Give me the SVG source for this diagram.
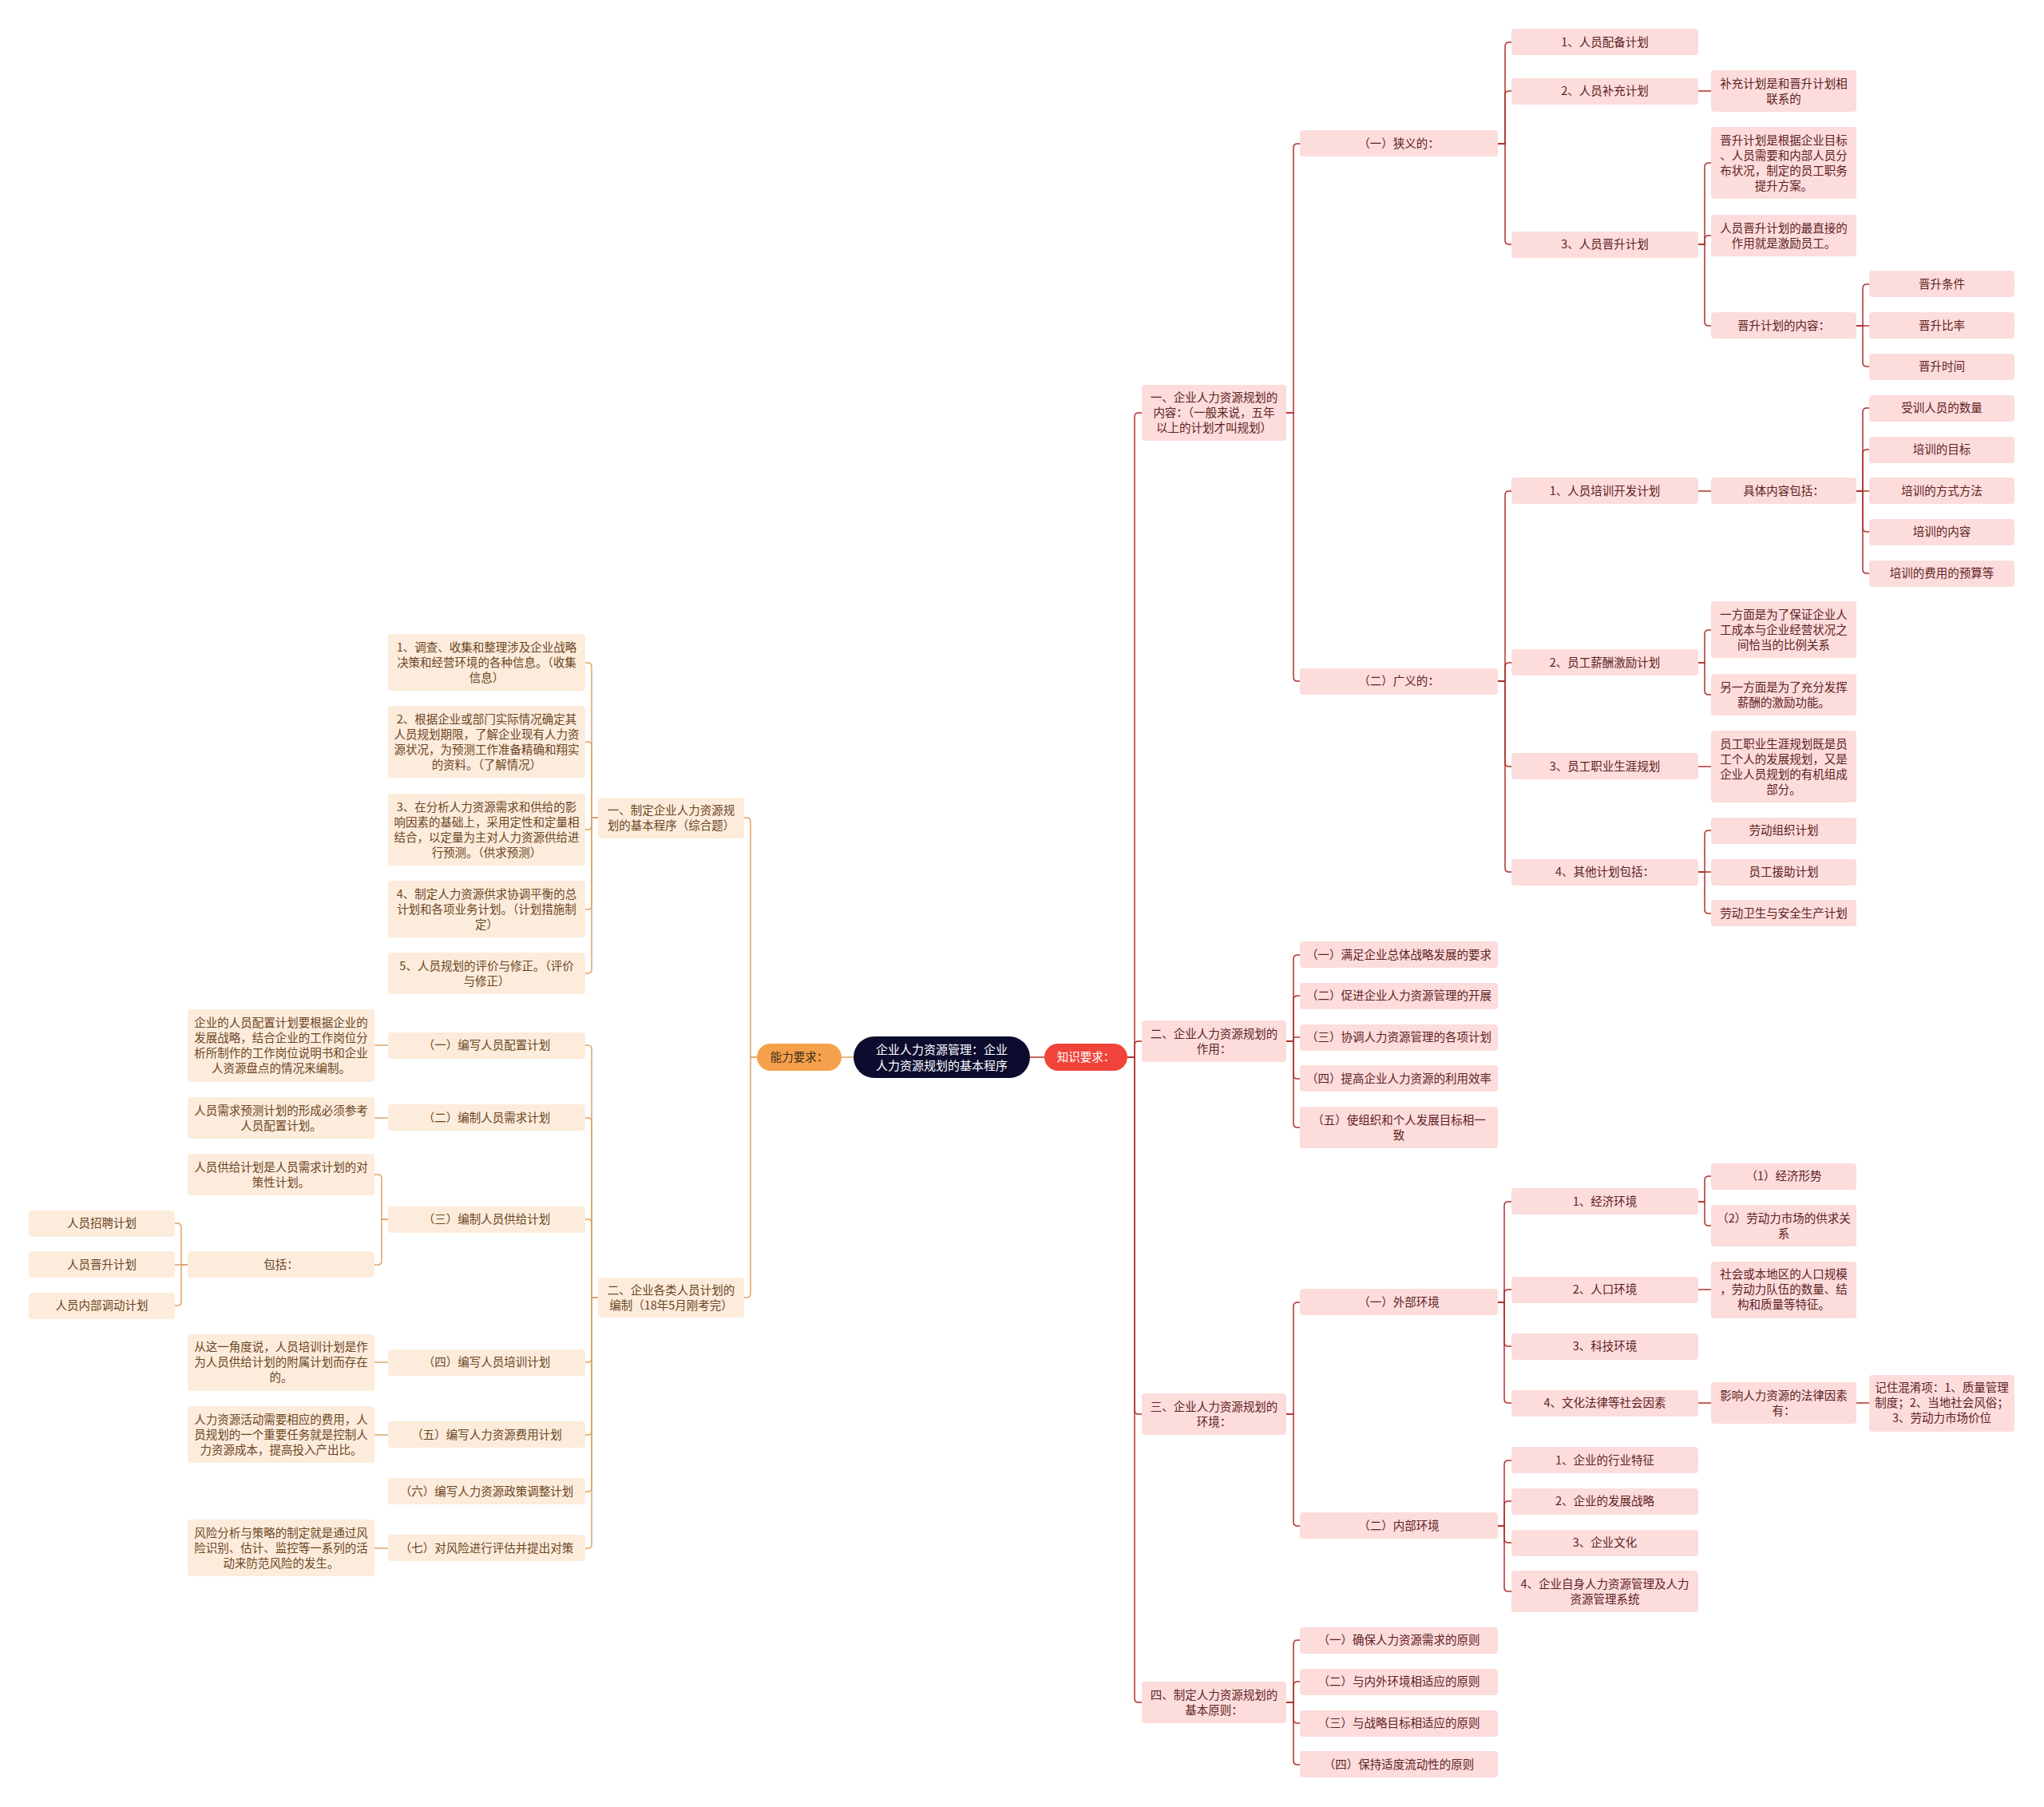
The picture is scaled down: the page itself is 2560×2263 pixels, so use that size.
<svg xmlns="http://www.w3.org/2000/svg" width="2560" height="2263" viewBox="0 0 2560 2263">
<style>
text{font-family:"Noto Sans CJK SC","Noto Sans",sans-serif;font-size:14.5px;text-anchor:middle}
.r rect{fill:#fddcdc}
.r text{fill:#5e2222}
.l rect{fill:#fdecdc}
.l text{fill:#6b451f}
.cr{fill:none;stroke:#b0302d;stroke-width:1.5}
.cl{fill:none;stroke:#dea468;stroke-width:1.5}
</style>
<rect x="0" y="0" width="2560" height="2263" fill="#ffffff"/>
<g id="connectors">
<path class="cr" d="M1290 1324 H1308"/>
<path class="cl" d="M1069 1324 H1054"/>
<path class="cr" d="M1412 1324 H1421 V522 Q1421 517 1426 517 H1430"/>
<path class="cr" d="M1412 1324 H1421 V1309 Q1421 1304 1426 1304 H1430"/>
<path class="cr" d="M1412 1324 H1421 V1766 Q1421 1771 1426 1771 H1430"/>
<path class="cr" d="M1412 1324 H1421 V2127 Q1421 2132 1426 2132 H1430"/>
<path class="cr" d="M1611 517 H1620 V185 Q1620 180 1625 180 H1628"/>
<path class="cr" d="M1611 517 H1620 V848 Q1620 853 1625 853 H1628"/>
<path class="cr" d="M1876 180 H1885 V58 Q1885 53 1890 53 H1893"/>
<path class="cr" d="M1876 180 H1885 V119 Q1885 114 1890 114 H1893"/>
<path class="cr" d="M1876 180 H1885 V301 Q1885 306 1890 306 H1893"/>
<path class="cr" d="M2127 114 H2143"/>
<path class="cr" d="M2127 306 H2135 V209 Q2135 204 2140 204 H2143"/>
<path class="cr" d="M2127 306 H2135 V300 Q2135 295 2140 295 H2143"/>
<path class="cr" d="M2127 306 H2135 V403 Q2135 408 2140 408 H2143"/>
<path class="cr" d="M2325 408 H2333 V361 Q2333 356 2338 356 H2341"/>
<path class="cr" d="M2325 408 H2341"/>
<path class="cr" d="M2325 408 H2333 V454 Q2333 459 2338 459 H2341"/>
<path class="cr" d="M1876 853 H1885 V620 Q1885 615 1890 615 H1893"/>
<path class="cr" d="M1876 853 H1885 V835 Q1885 830 1890 830 H1893"/>
<path class="cr" d="M1876 853 H1885 V955 Q1885 960 1890 960 H1893"/>
<path class="cr" d="M1876 853 H1885 V1087 Q1885 1092 1890 1092 H1893"/>
<path class="cr" d="M2127 615 H2143"/>
<path class="cr" d="M2325 615 H2333 V516 Q2333 511 2338 511 H2341"/>
<path class="cr" d="M2325 615 H2333 V568 Q2333 563 2338 563 H2341"/>
<path class="cr" d="M2325 615 H2341"/>
<path class="cr" d="M2325 615 H2333 V661 Q2333 666 2338 666 H2341"/>
<path class="cr" d="M2325 615 H2333 V713 Q2333 718 2338 718 H2341"/>
<path class="cr" d="M2127 830 H2135 V794 Q2135 789 2140 789 H2143"/>
<path class="cr" d="M2127 830 H2135 V865 Q2135 870 2140 870 H2143"/>
<path class="cr" d="M2127 960 H2143"/>
<path class="cr" d="M2127 1092 H2135 V1045 Q2135 1040 2140 1040 H2143"/>
<path class="cr" d="M2127 1092 H2143"/>
<path class="cr" d="M2127 1092 H2135 V1139 Q2135 1144 2140 1144 H2143"/>
<path class="cr" d="M1611 1304 H1620 V1201 Q1620 1196 1625 1196 H1628"/>
<path class="cr" d="M1611 1304 H1620 V1252 Q1620 1247 1625 1247 H1628"/>
<path class="cr" d="M1611 1304 H1620 V1299 H1628"/>
<path class="cr" d="M1611 1304 H1620 V1346 Q1620 1351 1625 1351 H1628"/>
<path class="cr" d="M1611 1304 H1620 V1407 Q1620 1412 1625 1412 H1628"/>
<path class="cr" d="M1611 1771 H1620 V1636 Q1620 1631 1625 1631 H1628"/>
<path class="cr" d="M1611 1771 H1620 V1906 Q1620 1911 1625 1911 H1628"/>
<path class="cr" d="M1876 1631 H1884 V1510 Q1884 1505 1889 1505 H1893"/>
<path class="cr" d="M1876 1631 H1884 V1620 Q1884 1615 1889 1615 H1893"/>
<path class="cr" d="M1876 1631 H1884 V1681 Q1884 1686 1889 1686 H1893"/>
<path class="cr" d="M1876 1631 H1884 V1752 Q1884 1757 1889 1757 H1893"/>
<path class="cr" d="M2127 1505 H2135 V1478 Q2135 1473 2140 1473 H2143"/>
<path class="cr" d="M2127 1505 H2135 V1530 Q2135 1535 2140 1535 H2143"/>
<path class="cr" d="M2127 1615 H2143"/>
<path class="cr" d="M2127 1757 H2143"/>
<path class="cr" d="M2325 1757 H2341"/>
<path class="cr" d="M1876 1911 H1884 V1834 Q1884 1829 1889 1829 H1893"/>
<path class="cr" d="M1876 1911 H1884 V1885 Q1884 1880 1889 1880 H1893"/>
<path class="cr" d="M1876 1911 H1884 V1927 Q1884 1932 1889 1932 H1893"/>
<path class="cr" d="M1876 1911 H1884 V1988 Q1884 1993 1889 1993 H1893"/>
<path class="cr" d="M1611 2132 H1620 V2059 Q1620 2054 1625 2054 H1628"/>
<path class="cr" d="M1611 2132 H1620 V2111 Q1620 2106 1625 2106 H1628"/>
<path class="cr" d="M1611 2132 H1620 V2153 Q1620 2158 1625 2158 H1628"/>
<path class="cr" d="M1611 2132 H1620 V2205 Q1620 2210 1625 2210 H1628"/>
<path class="cl" d="M948 1324 H940 V1029 Q940 1024 935 1024 H932"/>
<path class="cl" d="M948 1324 H940 V1620 Q940 1625 935 1625 H932"/>
<path class="cl" d="M749 1024 H741 V835 Q741 830 736 830 H733"/>
<path class="cl" d="M749 1024 H741 V934 Q741 929 736 929 H733"/>
<path class="cl" d="M749 1024 H741 V1034 Q741 1039 736 1039 H733"/>
<path class="cl" d="M749 1024 H741 V1134 Q741 1139 736 1139 H733"/>
<path class="cl" d="M749 1024 H741 V1214 Q741 1219 736 1219 H733"/>
<path class="cl" d="M749 1625 H741 V1314 Q741 1309 736 1309 H733"/>
<path class="cl" d="M749 1625 H741 V1405 Q741 1400 736 1400 H733"/>
<path class="cl" d="M749 1625 H741 V1532 Q741 1527 736 1527 H733"/>
<path class="cl" d="M749 1625 H741 V1701 Q741 1706 736 1706 H733"/>
<path class="cl" d="M749 1625 H741 V1792 Q741 1797 736 1797 H733"/>
<path class="cl" d="M749 1625 H741 V1863 Q741 1868 736 1868 H733"/>
<path class="cl" d="M749 1625 H741 V1934 Q741 1939 736 1939 H733"/>
<path class="cl" d="M486 1309 H469"/>
<path class="cl" d="M486 1400 H469"/>
<path class="cl" d="M486 1527 H478 V1476 Q478 1471 473 1471 H469"/>
<path class="cl" d="M486 1527 H478 V1579 Q478 1584 473 1584 H469"/>
<path class="cl" d="M235 1584 H227 V1537 Q227 1532 222 1532 H219"/>
<path class="cl" d="M235 1584 H219"/>
<path class="cl" d="M235 1584 H227 V1630 Q227 1635 222 1635 H219"/>
<path class="cl" d="M486 1706 H469"/>
<path class="cl" d="M486 1797 H469"/>
<path class="cl" d="M486 1939 H469"/>
</g>
<g id="root"><rect x="1069" y="1298" width="221" height="52" rx="26" fill="#0c0c2e"/><text fill="#ffffff" style="font-size:15px"><tspan x="1179.5" y="1320">企业人力资源管理：企业</tspan><tspan x="1179.5" y="1340">人力资源规划的基本程序</tspan></text></g>
<g id="knowledge"><rect x="1308" y="1307" width="104" height="34" rx="17" fill="#f0443a"/><text x="1360" y="1329" fill="#ffffff">知识要求：</text></g>
<g id="ability"><rect x="948" y="1307" width="106" height="34" rx="17" fill="#f5a14b"/><text x="1001" y="1329" fill="#3a2a1a">能力要求：</text></g>

<g id="r1" class="r"><rect x="1430" y="482" width="181" height="70" rx="4"/><text><tspan x="1520.5" y="503">一、企业人力资源规划的</tspan><tspan x="1520.5" y="522">内容：（一般来说，五年</tspan><tspan x="1520.5" y="541">以上的计划才叫规划）</tspan></text></g>
<g id="r2" class="r"><rect x="1430" y="1278" width="181" height="52" rx="4"/><text><tspan x="1520.5" y="1299.5">二、企业人力资源规划的</tspan><tspan x="1520.5" y="1318.5">作用：</tspan></text></g>
<g id="r3" class="r"><rect x="1430" y="1745" width="181" height="52" rx="4"/><text><tspan x="1520.5" y="1766.5">三、企业人力资源规划的</tspan><tspan x="1520.5" y="1785.5">环境：</tspan></text></g>
<g id="r4" class="r"><rect x="1430" y="2106" width="181" height="52" rx="4"/><text><tspan x="1520.5" y="2127.5">四、制定人力资源规划的</tspan><tspan x="1520.5" y="2146.5">基本原则：</tspan></text></g>

<g id="r1a" class="r"><rect x="1628" y="163" width="248" height="33" rx="4"/><text x="1752" y="185">（一）狭义的：</text></g>
<g id="r1b" class="r"><rect x="1628" y="837" width="248" height="33" rx="4"/><text x="1752" y="858">（二）广义的：</text></g>
<g id="r2a" class="r"><rect x="1628" y="1179" width="248" height="33" rx="4"/><text x="1752" y="1201">（一）满足企业总体战略发展的要求</text></g>
<g id="r2b" class="r"><rect x="1628" y="1231" width="248" height="33" rx="4"/><text x="1752" y="1252">（二）促进企业人力资源管理的开展</text></g>
<g id="r2c" class="r"><rect x="1628" y="1283" width="248" height="33" rx="4"/><text x="1752" y="1304">（三）协调人力资源管理的各项计划</text></g>
<g id="r2d" class="r"><rect x="1628" y="1334" width="248" height="33" rx="4"/><text x="1752" y="1356">（四）提高企业人力资源的利用效率</text></g>
<g id="r2e" class="r"><rect x="1628" y="1386" width="248" height="52" rx="4"/><text><tspan x="1752" y="1407.5">（五）使组织和个人发展目标相一</tspan><tspan x="1752" y="1426.5">致</tspan></text></g>
<g id="r3a" class="r"><rect x="1628" y="1614" width="248" height="33" rx="4"/><text x="1752" y="1636">（一）外部环境</text></g>
<g id="r3b" class="r"><rect x="1628" y="1894" width="248" height="33" rx="4"/><text x="1752" y="1916">（二）内部环境</text></g>
<g id="r4a" class="r"><rect x="1628" y="2038" width="248" height="33" rx="4"/><text x="1752" y="2059">（一）确保人力资源需求的原则</text></g>
<g id="r4b" class="r"><rect x="1628" y="2090" width="248" height="33" rx="4"/><text x="1752" y="2111">（二）与内外环境相适应的原则</text></g>
<g id="r4c" class="r"><rect x="1628" y="2142" width="248" height="33" rx="4"/><text x="1752" y="2163">（三）与战略目标相适应的原则</text></g>
<g id="r4d" class="r"><rect x="1628" y="2193" width="248" height="33" rx="4"/><text x="1752" y="2215">（四）保持适度流动性的原则</text></g>

<g id="n_pz" class="r"><rect x="1893" y="36" width="234" height="33" rx="4"/><text x="2010" y="58">1、人员配备计划</text></g>
<g id="n_bc" class="r"><rect x="1893" y="98" width="234" height="33" rx="4"/><text x="2010" y="119">2、人员补充计划</text></g>
<g id="n_js" class="r"><rect x="1893" y="290" width="234" height="33" rx="4"/><text x="2010" y="311">3、人员晋升计划</text></g>
<g id="n_px" class="r"><rect x="1893" y="598" width="234" height="33" rx="4"/><text x="2010" y="620">1、人员培训开发计划</text></g>
<g id="n_xc" class="r"><rect x="1893" y="813" width="234" height="33" rx="4"/><text x="2010" y="835">2、员工薪酬激励计划</text></g>
<g id="n_zy" class="r"><rect x="1893" y="943" width="234" height="33" rx="4"/><text x="2010" y="965">3、员工职业生涯规划</text></g>
<g id="n_qt" class="r"><rect x="1893" y="1076" width="234" height="33" rx="4"/><text x="2010" y="1097">4、其他计划包括：</text></g>
<g id="n_jj" class="r"><rect x="1893" y="1488" width="234" height="33" rx="4"/><text x="2010" y="1510">1、经济环境</text></g>
<g id="n_rk" class="r"><rect x="1893" y="1599" width="234" height="33" rx="4"/><text x="2010" y="1620">2、人口环境</text></g>
<g id="n_kj" class="r"><rect x="1893" y="1670" width="234" height="33" rx="4"/><text x="2010" y="1691">3、科技环境</text></g>
<g id="n_wh" class="r"><rect x="1893" y="1741" width="234" height="33" rx="4"/><text x="2010" y="1762">4、文化法律等社会因素</text></g>
<g id="n_hy" class="r"><rect x="1893" y="1812" width="234" height="33" rx="4"/><text x="2010" y="1834">1、企业的行业特征</text></g>
<g id="n_fz" class="r"><rect x="1893" y="1864" width="234" height="33" rx="4"/><text x="2010" y="1885">2、企业的发展战略</text></g>
<g id="n_wa" class="r"><rect x="1893" y="1916" width="234" height="33" rx="4"/><text x="2010" y="1937">3、企业文化</text></g>
<g id="n_zs" class="r"><rect x="1893" y="1967" width="234" height="52" rx="4"/><text><tspan x="2010" y="1988.5">4、企业自身人力资源管理及人力</tspan><tspan x="2010" y="2007.5">资源管理系统</tspan></text></g>

<g id="d_bc" class="r"><rect x="2143" y="88" width="182" height="52" rx="4"/><text><tspan x="2234" y="109.5">补充计划是和晋升计划相</tspan><tspan x="2234" y="128.5">联系的</tspan></text></g>
<g id="d_js1" class="r"><rect x="2143" y="159" width="182" height="90" rx="4"/><text><tspan x="2234" y="180.5">晋升计划是根据企业目标</tspan><tspan x="2234" y="199.5">、人员需要和内部人员分</tspan><tspan x="2234" y="218.5">布状况，制定的员工职务</tspan><tspan x="2234" y="237.5">提升方案。</tspan></text></g>
<g id="d_js2" class="r"><rect x="2143" y="269" width="182" height="52" rx="4"/><text><tspan x="2234" y="290.5">人员晋升计划的最直接的</tspan><tspan x="2234" y="309.5">作用就是激励员工。</tspan></text></g>
<g id="d_js3" class="r"><rect x="2143" y="391" width="182" height="33" rx="4"/><text x="2234" y="413">晋升计划的内容：</text></g>
<g id="d_px" class="r"><rect x="2143" y="598" width="182" height="33" rx="4"/><text x="2234" y="620">具体内容包括：</text></g>
<g id="d_xc1" class="r"><rect x="2143" y="753" width="182" height="71" rx="4"/><text><tspan x="2234" y="775">一方面是为了保证企业人</tspan><tspan x="2234" y="794">工成本与企业经营状况之</tspan><tspan x="2234" y="813">间恰当的比例关系</tspan></text></g>
<g id="d_xc2" class="r"><rect x="2143" y="844" width="182" height="52" rx="4"/><text><tspan x="2234" y="865.5">另一方面是为了充分发挥</tspan><tspan x="2234" y="884.5">薪酬的激励功能。</tspan></text></g>
<g id="d_zy" class="r"><rect x="2143" y="915" width="182" height="90" rx="4"/><text><tspan x="2234" y="936.5">员工职业生涯规划既是员</tspan><tspan x="2234" y="955.5">工个人的发展规划，又是</tspan><tspan x="2234" y="974.5">企业人员规划的有机组成</tspan><tspan x="2234" y="993.5">部分。</tspan></text></g>
<g id="d_qt1" class="r"><rect x="2143" y="1024" width="182" height="33" rx="4"/><text x="2234" y="1045">劳动组织计划</text></g>
<g id="d_qt2" class="r"><rect x="2143" y="1076" width="182" height="33" rx="4"/><text x="2234" y="1097">员工援助计划</text></g>
<g id="d_qt3" class="r"><rect x="2143" y="1127" width="182" height="33" rx="4"/><text x="2234" y="1149">劳动卫生与安全生产计划</text></g>
<g id="d_jj1" class="r"><rect x="2143" y="1457" width="182" height="33" rx="4"/><text x="2234" y="1478">（1）经济形势</text></g>
<g id="d_jj2" class="r"><rect x="2143" y="1509" width="182" height="52" rx="4"/><text><tspan x="2234" y="1530.5">（2）劳动力市场的供求关</tspan><tspan x="2234" y="1549.5">系</tspan></text></g>
<g id="d_rk" class="r"><rect x="2143" y="1580" width="182" height="71" rx="4"/><text><tspan x="2234" y="1601">社会或本地区的人口规模</tspan><tspan x="2234" y="1620">，劳动力队伍的数量、结</tspan><tspan x="2234" y="1639">构和质量等特征。</tspan></text></g>
<g id="d_wh" class="r"><rect x="2143" y="1731" width="182" height="52" rx="4"/><text><tspan x="2234" y="1752.5">影响人力资源的法律因素</tspan><tspan x="2234" y="1771.5">有：</tspan></text></g>

<g id="e_tj" class="r"><rect x="2341" y="339" width="182" height="33" rx="4"/><text x="2432" y="361">晋升条件</text></g>
<g id="e_bl" class="r"><rect x="2341" y="391" width="182" height="33" rx="4"/><text x="2432" y="413">晋升比率</text></g>
<g id="e_sj" class="r"><rect x="2341" y="443" width="182" height="33" rx="4"/><text x="2432" y="464">晋升时间</text></g>
<g id="e_p1" class="r"><rect x="2341" y="495" width="182" height="33" rx="4"/><text x="2432" y="516">受训人员的数量</text></g>
<g id="e_p2" class="r"><rect x="2341" y="547" width="182" height="33" rx="4"/><text x="2432" y="568">培训的目标</text></g>
<g id="e_p3" class="r"><rect x="2341" y="598" width="182" height="33" rx="4"/><text x="2432" y="620">培训的方式方法</text></g>
<g id="e_p4" class="r"><rect x="2341" y="650" width="182" height="33" rx="4"/><text x="2432" y="671">培训的内容</text></g>
<g id="e_p5" class="r"><rect x="2341" y="702" width="182" height="33" rx="4"/><text x="2432" y="723">培训的费用的预算等</text></g>
<g id="e_jz" class="r"><rect x="2341" y="1722" width="182" height="71" rx="4"/><text><tspan x="2432" y="1743">记住混淆项：1、质量管理</tspan><tspan x="2432" y="1762">制度；2、当地社会风俗；</tspan><tspan x="2432" y="1781">3、劳动力市场价位</tspan></text></g>

<g id="l1" class="l"><rect x="749" y="999" width="183" height="51" rx="4"/><text><tspan x="840.5" y="1019.5">一、制定企业人力资源规</tspan><tspan x="840.5" y="1038.5">划的基本程序（综合题）</tspan></text></g>
<g id="l2" class="l"><rect x="749" y="1600" width="183" height="50" rx="4"/><text><tspan x="840.5" y="1620.5">二、企业各类人员计划的</tspan><tspan x="840.5" y="1639.5">编制（18年5月刚考完）</tspan></text></g>

<g id="l1a" class="l"><rect x="486" y="794" width="247" height="71" rx="4"/><text><tspan x="609.5" y="816">1、调查、收集和整理涉及企业战略</tspan><tspan x="609.5" y="835">决策和经营环境的各种信息。（收集</tspan><tspan x="609.5" y="854">信息）</tspan></text></g>
<g id="l1b" class="l"><rect x="486" y="884" width="247" height="90" rx="4"/><text><tspan x="609.5" y="905.5">2、根据企业或部门实际情况确定其</tspan><tspan x="609.5" y="924.5">人员规划期限，了解企业现有人力资</tspan><tspan x="609.5" y="943.5">源状况，为预测工作准备精确和翔实</tspan><tspan x="609.5" y="962.5">的资料。（了解情况）</tspan></text></g>
<g id="l1c" class="l"><rect x="486" y="994" width="247" height="90" rx="4"/><text><tspan x="609.5" y="1015.5">3、在分析人力资源需求和供给的影</tspan><tspan x="609.5" y="1034.5">响因素的基础上，采用定性和定量相</tspan><tspan x="609.5" y="1053.5">结合，以定量为主对人力资源供给进</tspan><tspan x="609.5" y="1072.5">行预测。（供求预测）</tspan></text></g>
<g id="l1d" class="l"><rect x="486" y="1103" width="247" height="71" rx="4"/><text><tspan x="609.5" y="1125">4、制定人力资源供求协调平衡的总</tspan><tspan x="609.5" y="1144">计划和各项业务计划。（计划措施制</tspan><tspan x="609.5" y="1163">定）</tspan></text></g>
<g id="l1e" class="l"><rect x="486" y="1193" width="247" height="52" rx="4"/><text><tspan x="609.5" y="1214.5">5、人员规划的评价与修正。（评价</tspan><tspan x="609.5" y="1233.5">与修正）</tspan></text></g>

<g id="l2a" class="l"><rect x="486" y="1293" width="247" height="33" rx="4"/><text x="609.5" y="1314">（一）编写人员配置计划</text></g>
<g id="l2b" class="l"><rect x="486" y="1383" width="247" height="33" rx="4"/><text x="609.5" y="1405">（二）编制人员需求计划</text></g>
<g id="l2c" class="l"><rect x="486" y="1511" width="247" height="33" rx="4"/><text x="609.5" y="1532">（三）编制人员供给计划</text></g>
<g id="l2d" class="l"><rect x="486" y="1690" width="247" height="33" rx="4"/><text x="609.5" y="1711">（四）编写人员培训计划</text></g>
<g id="l2e" class="l"><rect x="486" y="1780" width="247" height="33" rx="4"/><text x="609.5" y="1802">（五）编写人力资源费用计划</text></g>
<g id="l2f" class="l"><rect x="486" y="1851" width="247" height="33" rx="4"/><text x="609.5" y="1873">（六）编写人力资源政策调整计划</text></g>
<g id="l2g" class="l"><rect x="486" y="1922" width="247" height="33" rx="4"/><text x="609.5" y="1944">（七）对风险进行评估并提出对策</text></g>

<g id="l3a" class="l"><rect x="235" y="1264" width="234" height="91" rx="4"/><text><tspan x="352" y="1285.5">企业的人员配置计划要根据企业的</tspan><tspan x="352" y="1304.5">发展战略，结合企业的工作岗位分</tspan><tspan x="352" y="1323.5">析所制作的工作岗位说明书和企业</tspan><tspan x="352" y="1342.5">人资源盘点的情况来编制。</tspan></text></g>
<g id="l3b" class="l"><rect x="235" y="1374" width="234" height="52" rx="4"/><text><tspan x="352" y="1395.5">人员需求预测计划的形成必须参考</tspan><tspan x="352" y="1414.5">人员配置计划。</tspan></text></g>
<g id="l3c" class="l"><rect x="235" y="1445" width="234" height="52" rx="4"/><text><tspan x="352" y="1466.5">人员供给计划是人员需求计划的对</tspan><tspan x="352" y="1485.5">策性计划。</tspan></text></g>
<g id="l3d" class="l"><rect x="235" y="1567" width="234" height="33" rx="4"/><text x="352" y="1589">包括：</text></g>
<g id="l3e" class="l"><rect x="235" y="1671" width="234" height="71" rx="4"/><text><tspan x="352" y="1692">从这一角度说，人员培训计划是作</tspan><tspan x="352" y="1711">为人员供给计划的附属计划而存在</tspan><tspan x="352" y="1730">的。</tspan></text></g>
<g id="l3f" class="l"><rect x="235" y="1761" width="234" height="71" rx="4"/><text><tspan x="352" y="1783">人力资源活动需要相应的费用，人</tspan><tspan x="352" y="1802">员规划的一个重要任务就是控制人</tspan><tspan x="352" y="1821">力资源成本，提高投入产出比。</tspan></text></g>
<g id="l3g" class="l"><rect x="235" y="1903" width="234" height="71" rx="4"/><text><tspan x="352" y="1925">风险分析与策略的制定就是通过风</tspan><tspan x="352" y="1944">险识别、估计、监控等一系列的活</tspan><tspan x="352" y="1963">动来防范风险的发生。</tspan></text></g>

<g id="l4a" class="l"><rect x="36" y="1516" width="183" height="33" rx="4"/><text x="127.5" y="1537">人员招聘计划</text></g>
<g id="l4b" class="l"><rect x="36" y="1567" width="183" height="33" rx="4"/><text x="127.5" y="1589">人员晋升计划</text></g>
<g id="l4c" class="l"><rect x="36" y="1619" width="183" height="33" rx="4"/><text x="127.5" y="1640">人员内部调动计划</text></g>
</svg>
